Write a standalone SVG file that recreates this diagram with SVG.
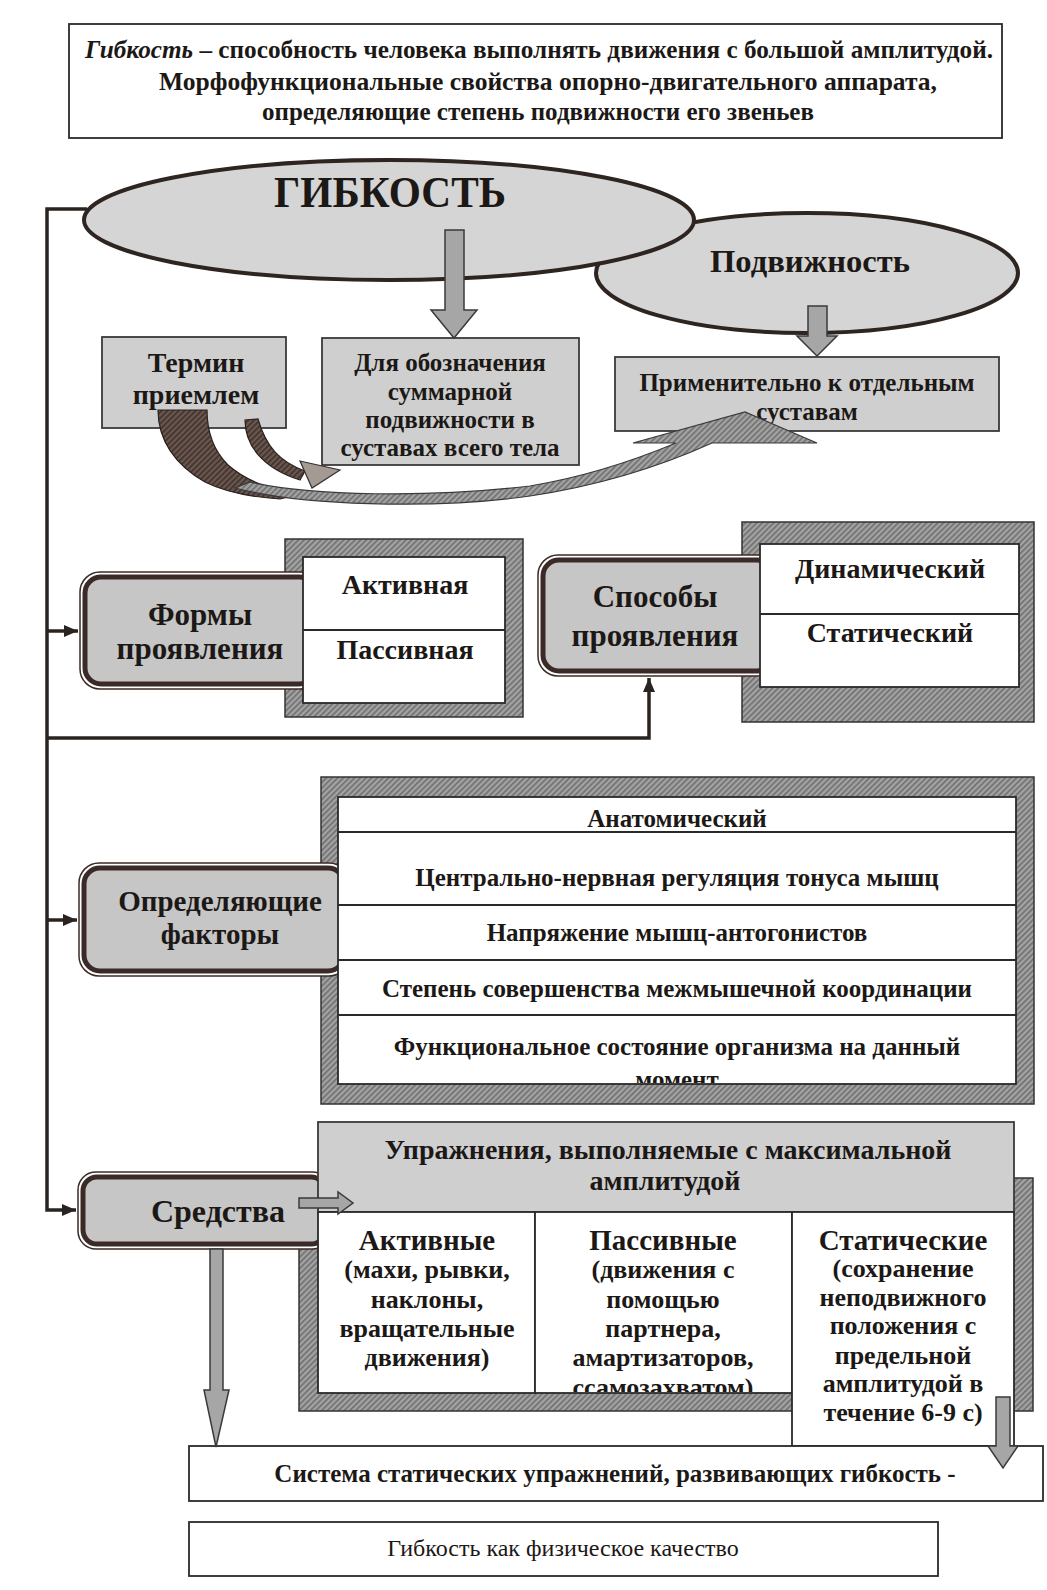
<svg xmlns="http://www.w3.org/2000/svg" width="1047" height="1590" viewBox="0 0 1047 1590">
<defs>
<pattern id="hatch" width="4" height="4" patternUnits="userSpaceOnUse" patternTransform="rotate(45)">
<rect width="4" height="4" fill="#a3a3a3"/>
<rect width="1.6" height="4" fill="#6e6e6e"/>
</pattern>
<pattern id="hatchDark" width="4" height="4" patternUnits="userSpaceOnUse" patternTransform="rotate(45)">
<rect width="4" height="4" fill="#6a5850"/>
<rect width="1.6" height="4" fill="#3e302a"/>
</pattern>
<marker id="ah" markerUnits="userSpaceOnUse" markerWidth="14" markerHeight="12" refX="14" refY="6" orient="auto">
<path d="M0,0 L14,6 L0,12 Z" fill="#2a2420"/>
</marker>
<clipPath id="clipF"><rect x="338" y="797" width="678" height="286"/></clipPath>
<clipPath id="clipP"><rect x="535" y="1212" width="257" height="180"/></clipPath>
<style>
.t{font-family:"Liberation Serif","Times New Roman",serif;fill:#1c1816;text-anchor:middle}
.b{font-weight:bold}
.wbox{fill:#ffffff;stroke:#2a2a2a;stroke-width:1.8}
.gbox{fill:#cfcfcf;stroke:#3a3a3a;stroke-width:1.8}
.frame{fill:url(#hatch);stroke:#333333;stroke-width:1.5}
.ell{fill:#d5d5d5;stroke:#2e2420;stroke-width:4}
.rbo{fill:#ffffff;stroke:#3a2b26;stroke-width:1.5}
.rbi{fill:#c6c6c6;stroke:#3a2b26;stroke-width:5}
.barrow{fill:#a6a6a6;stroke:#3a3a3a;stroke-width:1.5}
.conn{fill:none;stroke:#2a2420;stroke-width:3.5}
.div{stroke:#2a2a2a;stroke-width:1.8}
</style>
</defs>
<rect width="1047" height="1590" fill="#ffffff"/>

<g id="definition">
<rect class="wbox" x="69" y="24" width="933" height="114"/>
<text class="t b" x="539" y="58" font-size="25" textLength="908" lengthAdjust="spacingAndGlyphs"><tspan font-style="italic">Гибкость</tspan> – способность человека выполнять движения с большой амплитудой.</text>
<text class="t b" x="548" y="90" font-size="25" textLength="778" lengthAdjust="spacingAndGlyphs">Морфофункциональные свойства опорно-двигательного аппарата,</text>
<text class="t b" x="538" y="120" font-size="25">определяющие степень подвижности его звеньев</text>
</g>

<g id="podvizhnost">
<ellipse class="ell" cx="807" cy="273" rx="211" ry="60"/>
<text class="t b" x="810" y="272" font-size="32" textLength="200" lengthAdjust="spacingAndGlyphs">Подвижность</text>
</g>

<g id="gibkost">
<ellipse class="ell" cx="389" cy="220" rx="305" ry="60"/>
<text class="t b" x="390" y="207" font-size="44" textLength="232" lengthAdjust="spacingAndGlyphs">ГИБКОСТЬ</text>
</g>

<g id="termin">
<rect class="gbox" x="102" y="337" width="184" height="91"/>
<text class="t b" x="196" y="372" font-size="28">Термин</text>
<text class="t b" x="196" y="404" font-size="28">приемлем</text>
</g>

<g id="oboznachenie">
<rect class="gbox" x="322" y="338" width="257" height="127"/>
<text class="t b" x="450" y="371" font-size="25">Для обозначения</text>
<text class="t b" x="450" y="400" font-size="25">суммарной</text>
<text class="t b" x="450" y="428" font-size="25">подвижности в</text>
<text class="t b" x="450" y="456" font-size="25">суставах всего тела</text>
</g>

<g id="primenitelno">
<rect class="gbox" x="615" y="357" width="384" height="74"/>
<text class="t b" x="807" y="391" font-size="25">Применительно к отдельным</text>
<text class="t b" x="807" y="420" font-size="25">суставам</text>
</g>

<g id="formy">
<rect class="frame" x="285" y="539" width="238" height="178"/>
<rect class="rbo" x="80" y="572" width="240" height="117" rx="20"/>
<rect class="rbi" x="85" y="577" width="230" height="107" rx="16"/>
<rect class="wbox" x="303" y="557" width="202" height="146"/>
<line class="div" x1="303" y1="630" x2="505" y2="630"/>
<text class="t b" x="200" y="625" font-size="31">Формы</text>
<text class="t b" x="200" y="659" font-size="31">проявления</text>
<text class="t b" x="405" y="594" font-size="28">Активная</text>
<text class="t b" x="405" y="659" font-size="28">Пассивная</text>
</g>

<g id="sposoby">
<rect class="frame" x="742" y="522" width="292" height="200"/>
<rect class="rbo" x="538" y="555" width="240" height="121" rx="20"/>
<rect class="rbi" x="543" y="560" width="230" height="111" rx="16"/>
<rect class="wbox" x="760" y="544" width="259" height="143"/>
<line class="div" x1="760" y1="614" x2="1019" y2="614"/>
<text class="t b" x="655" y="607" font-size="31">Способы</text>
<text class="t b" x="655" y="646" font-size="31">проявления</text>
<text class="t b" x="890" y="578" font-size="28">Динамический</text>
<text class="t b" x="890" y="642" font-size="28">Статический</text>
</g>

<g id="faktory">
<rect class="frame" x="321" y="777" width="713" height="327"/>
<rect class="rbo" x="79" y="863" width="270" height="113" rx="20"/>
<rect class="rbi" x="84" y="868" width="260" height="103" rx="16"/>
<rect class="wbox" x="338" y="797" width="678" height="287"/>
<line class="div" x1="338" y1="832" x2="1016" y2="832"/>
<line class="div" x1="338" y1="905" x2="1016" y2="905"/>
<line class="div" x1="338" y1="960" x2="1016" y2="960"/>
<line class="div" x1="338" y1="1015" x2="1016" y2="1015"/>
<text class="t b" x="220" y="911" font-size="29">Определяющие</text>
<text class="t b" x="220" y="944" font-size="29">факторы</text>
<text class="t b" x="677" y="827" font-size="25">Анатомический</text>
<text class="t b" x="677" y="886" font-size="25">Центрально-нервная регуляция тонуса мышц</text>
<text class="t b" x="677" y="941" font-size="25">Напряжение мышц-антогонистов</text>
<text class="t b" x="677" y="997" font-size="25">Степень совершенства межмышечной координации</text>
<text class="t b" x="677" y="1055" font-size="25">Функциональное состояние организма на данный</text>
<text class="t b" x="677" y="1088" font-size="25" clip-path="url(#clipF)">момент</text>
</g>

<g id="sredstva">
<rect class="frame" x="299" y="1178" width="734" height="233"/>
<rect class="rbo" x="78" y="1172" width="252" height="77" rx="18"/>
<rect class="rbi" x="83" y="1177" width="242" height="67" rx="14"/>
<text class="t b" x="218" y="1222" font-size="32">Средства</text>
</g>

<g id="uprazhneniya">
<rect class="gbox" x="318" y="1122" width="696" height="90"/>
<text class="t b" x="668" y="1159" font-size="28">Упражнения, выполняемые с максимальной</text>
<text class="t b" x="665" y="1190" font-size="28">амплитудой</text>
</g>

<g id="aktivnye">
<rect class="wbox" x="318" y="1212" width="217" height="181"/>
<text class="t b" x="427" y="1250" font-size="29">Активные</text>
<text class="t b" x="427" y="1278" font-size="26">(махи, рывки,</text>
<text class="t b" x="427" y="1308" font-size="26">наклоны,</text>
<text class="t b" x="427" y="1337" font-size="26">вращательные</text>
<text class="t b" x="427" y="1366" font-size="26">движения)</text>
</g>

<g id="passivnye">
<rect class="wbox" x="535" y="1212" width="257" height="181"/>
<text class="t b" x="663" y="1250" font-size="29">Пассивные</text>
<text class="t b" x="663" y="1278" font-size="26">(движения с</text>
<text class="t b" x="663" y="1308" font-size="26">помощью</text>
<text class="t b" x="663" y="1337" font-size="26">партнера,</text>
<text class="t b" x="663" y="1366" font-size="26">амартизаторов,</text>
<text class="t b" x="663" y="1396" font-size="26" clip-path="url(#clipP)">ссамозахватом)</text>
</g>

<g id="staticheskie">
<rect class="wbox" x="792" y="1212" width="222" height="234"/>
<text class="t b" x="903" y="1250" font-size="29">Статические</text>
<text class="t b" x="903" y="1277" font-size="26">(сохранение</text>
<text class="t b" x="903" y="1306" font-size="26">неподвижного</text>
<text class="t b" x="903" y="1334" font-size="26">положения с</text>
<text class="t b" x="903" y="1364" font-size="26">предельной</text>
<text class="t b" x="903" y="1392" font-size="26">амплитудой в</text>
<text class="t b" x="903" y="1421" font-size="26">течение 6-9 с)</text>
</g>

<g id="sistema">
<rect class="wbox" x="189" y="1446" width="854" height="55"/>
<text class="t b" x="615" y="1482" font-size="25">Система статических упражнений, развивающих гибкость -</text>
</g>

<g id="kachestvo">
<rect class="wbox" x="189" y="1522" width="749" height="54"/>
<text class="t" x="563" y="1556" font-size="24">Гибкость как физическое качество</text>
</g>

<g id="connectors">
<polyline class="conn" points="87,209 47,209 47,1210 76,1210" marker-end="url(#ah)"/>
<line class="conn" x1="47" y1="631" x2="78" y2="631" marker-end="url(#ah)"/>
<line class="conn" x1="47" y1="920" x2="77" y2="920" marker-end="url(#ah)"/>
<polyline class="conn" points="47,738 649,738 649,678" marker-end="url(#ah)"/>
<polygon class="barrow" points="445,230 464,230 464,310 477,310 454,338 431,310 445,310"/>
<polygon class="barrow" points="808,306 827,306 827,336 837,336 817,356 797,336 808,336"/>
<path d="M158,410 C158,440 175,465 205,482 C225,492 250,497 280,499 L300,494 C270,490 245,480 228,465 C213,450 207,432 207,410 Z" fill="url(#hatchDark)" stroke="#2b201c" stroke-width="1.2"/>
<path d="M235,488 C300,505 430,510 530,496 C610,484 670,462 712,443 L817,443 L745,412 L633,443 L676,443 C640,458 590,476 530,486 C430,498 310,496 250,482 Z" fill="url(#hatch)" stroke="#3a3a3a" stroke-width="1.2"/>
<path d="M245,420 C245,445 262,468 300,480 L305,471 C280,462 266,447 258,419 Z" fill="url(#hatchDark)" stroke="#2b201c" stroke-width="1.2"/>
<polygon points="300,461 340,470 312,488" fill="#a39a94" stroke="#3a302c" stroke-width="1.2"/>
<polygon class="barrow" points="299,1198 338,1198 338,1192 353,1203 338,1214 338,1208 299,1208"/>
<polygon class="barrow" points="210,1249 223,1249 223,1390 229,1390 216,1447 204,1390 210,1390"/>
<polygon class="barrow" points="996,1397 1010,1397 1010,1446 1018,1446 1003,1468 988,1446 996,1446"/>
</g>
</svg>
